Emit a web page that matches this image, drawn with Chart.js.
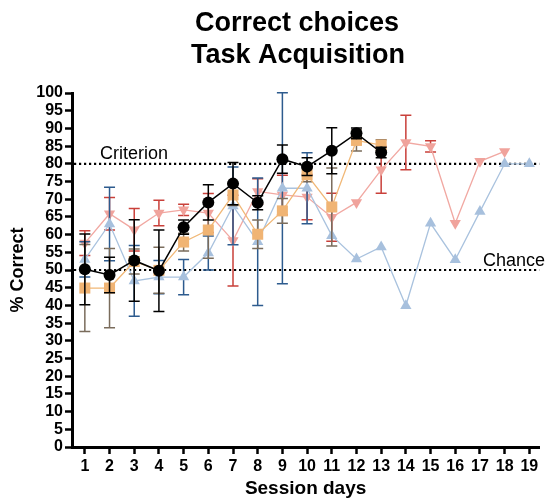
<!DOCTYPE html>
<html>
<head>
<meta charset="utf-8">
<script src="https://cdn.jsdelivr.net/npm/chart.js@4"></script>
<style>
  html, body { margin: 0; padding: 0; background: #fff; }
  canvas { display: block; }
</style>
</head>
<body>
<canvas id="chart" width="547" height="504"></canvas>
<script>
'use strict';

// session days and y ticks
const days = [1, 2, 3, 4, 5, 6, 7, 8, 9, 10, 11, 12, 13, 14, 15, 16, 17, 18, 19];
const yTicks = [0, 5, 10, 15, 20, 25, 30, 35, 40, 45, 50, 55, 60, 65, 70, 75, 80, 85, 90, 95, 100];

// mean % correct per group
const blackMean  = [50.2, 48.6, 52.7, 49.8, 62.1, 69.1, 74.4, 69.0, 81.3, 79.2, 83.7, 88.6, 83.2, null, null, null, null, null, null];
const orangeMean = [44.9, 44.9, 52.4, 49.9, 57.9, 61.3, 71.2, 60.1, 66.7, 76.9, 67.8, 86.6, 85.3, null, null, null, null, null, null];
const redMean    = [57.6, 65.9, 61.4, 66.1, 67.0, 66.1, 58.3, 72.2, 71.2, 70.6, 64.9, 69.1, 78.3, 86.0, 84.9, 63.2, 80.7, 83.5, null];
const blueMean   = [53.0, 63.0, 46.9, 48.0, 48.0, 54.8, 68.1, 58.0, 73.1, 73.1, 59.7, 53.1, 56.5, 39.9, 63.2, 52.9, 66.5, 80.0, 80.0];

// error (± SEM) per group
const blackErr  = [10, 5, 11.5, 11.5, 2, 5, 6, 2, 4, 2.5, 6.5, 1.5, 1.5];
const orangeErr = [12.3, 11.2, 3.5, 6.5, 2.5, 8, 3, 4, 3.5, 2, 11, 3, 1.5];
const redErr    = [3.5, 4.6, 6, 3.6, 1.6, 5.5, 12.8, 3.6, 5.6, 6.4, 6.8, 0, 6.6, 7.7, 1.6, 0, 0, 0, 0];
const blueErr   = [5, 10.4, 10, 4.7, 5, 4.8, 11, 18, 27, 10, 0, 0, 0, 0, 0, 0, 0, 0, 0];

const criterion = 80;
const chance = 50;

const FONT = '"Liberation Sans", Arial, Helvetica, sans-serif';

function toPoints(vals) {
  return days.map((d, i) => ({ x: d, y: vals[i] == null ? null : vals[i] }));
}

// error bars drawn just under each dataset's own markers
const errorBars = {
  id: 'errorBars',
  beforeDatasetDraw(chart, args) {
    const ds = chart.data.datasets[args.index];
    if (!ds.errors) return;
    const {ctx, scales: {x, y}} = chart;
    ctx.save();
    ctx.strokeStyle = ds.errorColor;
    ctx.lineWidth = 1.5;
    ds.data.forEach((p, i) => {
      const e = ds.errors[i];
      if (p.y == null || !e) return;
      const px = x.getPixelForValue(p.x);
      const top = y.getPixelForValue(p.y + e);
      const bot = y.getPixelForValue(p.y - e);
      ctx.beginPath();
      ctx.moveTo(px, top); ctx.lineTo(px, bot);
      ctx.moveTo(px - 5.5, top); ctx.lineTo(px + 5.5, top);
      ctx.moveTo(px - 5.5, bot); ctx.lineTo(px + 5.5, bot);
      ctx.stroke();
    });
    ctx.restore();
  }
};

// dotted criterion / chance lines with their labels
const refLines = {
  id: 'refLines',
  beforeDatasetsDraw(chart) {
    const {ctx, chartArea, scales: {y}} = chart;
    ctx.save();
    ctx.strokeStyle = '#000';
    ctx.lineWidth = 2.2;
    ctx.setLineDash([2.2, 2.8]);
    [criterion, chance].forEach(v => {
      const py = y.getPixelForValue(v);
      ctx.beginPath();
      ctx.moveTo(chartArea.left + 2, py);
      ctx.lineTo(chartArea.right, py);
      ctx.stroke();
    });
    ctx.setLineDash([]);
    ctx.fillStyle = '#000';
    ctx.font = '18px ' + FONT;
    ctx.textBaseline = 'alphabetic';
    ctx.textAlign = 'left';
    ctx.fillText('Criterion', 100, y.getPixelForValue(criterion) - 5);
    ctx.textAlign = 'right';
    ctx.fillText('Chance', 545, y.getPixelForValue(chance) - 4);
    ctx.restore();
  }
};

// two-line chart title
const chartTitle = {
  id: 'chartTitle',
  afterDraw(chart) {
    const ctx = chart.ctx;
    ctx.save();
    ctx.fillStyle = '#000';
    ctx.font = 'bold 27px ' + FONT;
    ctx.textAlign = 'center';
    ctx.textBaseline = 'alphabetic';
    ctx.fillText('Correct choices', 297, 31);
    ctx.fillText('Task Acquisition', 298, 63);
    ctx.restore();
  }
};

let canvasElem = document.getElementById('chart');

let data = {
  datasets: [
    {
      label: 'Group 1',
      data: toPoints(blackMean),
      errors: blackErr,
      errorColor: '#000000',
      borderColor: '#000000',
      backgroundColor: '#000000',
      borderWidth: 1.5,
      pointStyle: 'circle',
      pointRadius: 6,
      pointBorderWidth: 0,
      order: 0
    },
    {
      label: 'Group 2',
      data: toPoints(orangeMean),
      errors: orangeErr,
      errorColor: '#7a6c5c',
      borderColor: '#f1b877',
      backgroundColor: '#f0b474',
      borderWidth: 1.3,
      pointStyle: 'rect',
      pointRadius: 7.8,
      pointBorderWidth: 0,
      order: 1
    },
    {
      label: 'Group 3',
      data: toPoints(blueMean),
      errors: blueErr,
      errorColor: '#2d5b8e',
      borderColor: '#a9c2de',
      backgroundColor: '#a7c0dd',
      borderWidth: 1.3,
      pointStyle: 'triangle',
      pointRadius: 6.5,
      pointBorderWidth: 0,
      order: 2
    },
    {
      label: 'Group 4',
      data: toPoints(redMean),
      errors: redErr,
      errorColor: '#c9403a',
      borderColor: '#f1a8a2',
      backgroundColor: '#f0a39c',
      borderWidth: 1.3,
      pointStyle: 'triangle',
      pointRotation: 180,
      pointRadius: 6.5,
      pointBorderWidth: 0,
      order: 3
    }
  ]
};

let options = {
  responsive: false,
  animation: false,
  layout: { padding: { top: 93, left: 0, right: 0, bottom: 0 } },
  plugins: {
    legend: { display: false },
    title: { display: false },
    tooltip: { enabled: false }
  },
  elements: { line: { tension: 0 } },
  datasets: { line: { clip: false, spanGaps: false } },
  scales: {
    x: {
      type: 'linear',
      min: 0.48,
      max: 19.4,
      afterBuildTicks: s => { s.ticks = days.map(d => ({ value: d })); },
      afterFit: s => { s.height = 57; s.paddingLeft = 0; s.paddingRight = 0; },
      grid: { drawOnChartArea: false, drawTicks: true, tickLength: 7, tickWidth: 2.5, tickColor: '#000' },
      border: { display: true, width: 3, color: '#000' },
      ticks: {
        color: '#000',
        padding: 3,
        maxRotation: 0,
        autoSkip: false,
        font: { family: FONT, size: 16, weight: 'bold' }
      },
      title: {
        display: true,
        text: 'Session days',
        color: '#000',
        padding: { top: 0, bottom: 4 },
        font: { family: FONT, size: 19, weight: 'bold' }
      }
    },
    y: {
      min: 0,
      max: 100,
      afterBuildTicks: s => { s.ticks = yTicks.map(v => ({ value: v })); },
      afterFit: s => { s.width = 72; s.paddingTop = 0; s.paddingBottom = 0; },
      grid: { drawOnChartArea: false, drawTicks: true, tickLength: 7, tickWidth: 2.5, tickColor: '#000' },
      border: { display: true, width: 3, color: '#000' },
      ticks: {
        color: '#000',
        padding: 2,
        autoSkip: false,
        font: { family: FONT, size: 16, weight: 'bold' }
      },
      title: {
        display: true,
        text: '% Correct',
        color: '#000',
        padding: { top: 7, bottom: 0 },
        font: { family: FONT, size: 18, weight: 'bold' }
      }
    }
  }
};

let ctx = canvasElem.getContext('2d');
new Chart(ctx, {
  type: 'line',
  data: data,
  options: options,
  plugins: [errorBars, refLines, chartTitle]
});
</script>
</body>
</html>
